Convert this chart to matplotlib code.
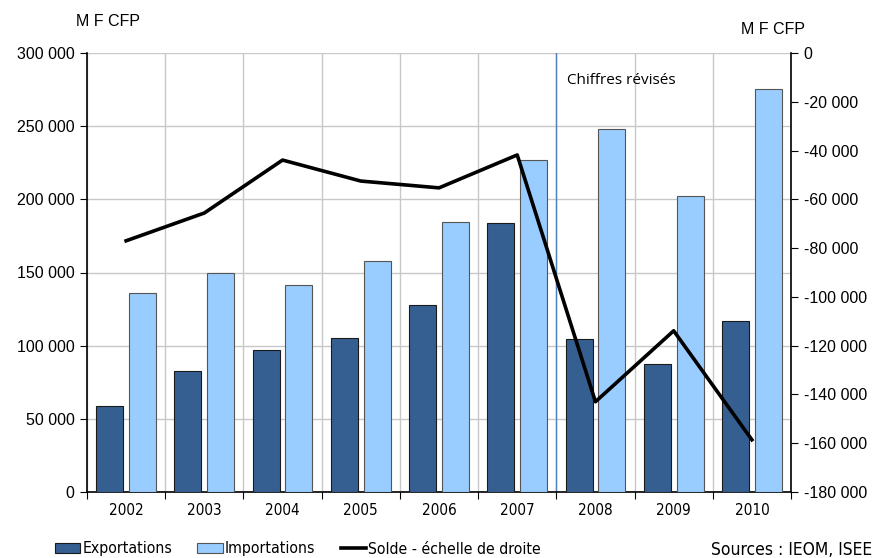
import matplotlib
matplotlib.use('Agg')
import matplotlib.pyplot as plt
from matplotlib.patches import Rectangle
from matplotlib.lines import Line2D
import numpy as np

annees = ['2002', '2003', '2004', '2005', '2006', '2007', '2008', '2009', '2010']
exportations = [58800, 82700, 97000, 105200, 127800, 183800, 104600, 87500, 116900]
importations = [136000, 149700, 141500, 157900, 184500, 226900, 248000, 202300, 275400]
solde = [-77000, -65600, -43900, -52500, -55300, -41800, -143000, -113900, -158600]

plt.rcParams['font.family'] = ['Liberation Sans', 'DejaVu Sans']
fonte_x = 'DejaVu Sans'

def fmt(v, pos=None):
    return '{:,.0f}'.format(v).replace(',', ' ')

fig = plt.figure(figsize=(8.75, 5.58), dpi=100)
ax = fig.add_axes([87/875, 66/558, 704/875, 439/558])
x = np.arange(len(annees))

ax.bar(x - 0.21, exportations, width=0.345, color='#365f91', edgecolor='#1a1a1a', linewidth=0.8, zorder=3)
ax.bar(x + 0.21, importations, width=0.345, color='#99ccff', edgecolor='#555555', linewidth=0.8, zorder=3)

ax.set_xlim(-0.5, len(annees) - 0.5)
ax.set_ylim(0, 300000)
ax.set_yticks(np.arange(0, 300001, 50000))
ax.yaxis.set_major_formatter(plt.FuncFormatter(fmt))
ax.set_xticks(np.arange(-0.5, len(annees), 1))
ax.set_xticklabels([])
ax.set_xticks(x, minor=True)
ax.set_xticklabels(annees, minor=True, fontsize=11, family=fonte_x, fontstretch='condensed')
ax.tick_params(axis='x', which='minor', length=0, pad=8)
ax.tick_params(axis='x', which='major', length=5, direction='out', color='black')
ax.tick_params(axis='y', length=5, direction='out', labelsize=11.5, pad=4)
ax.grid(True, which='major', color='#c8c8c8', linewidth=1, zorder=0)
ax.set_axisbelow(True)
for s in ['top', 'right']:
    ax.spines[s].set_visible(False)
ax.spines['left'].set_linewidth(1.2)
ax.spines['bottom'].set_linewidth(1.2)

# chiffres revises a partir de 2008
ax.axvline(5.5, color='#4f81bd', linewidth=1, zorder=2)
ax.text(5.64, 281000, 'Chiffres révisés', fontsize=11, family='Open Sans', va='center', ha='left')

ax2 = ax.twinx()
ax2.plot(x, solde, color='black', linewidth=2.6, zorder=5)
ax2.set_ylim(-180000, 0)
ax2.set_yticks(np.arange(-180000, 1, 20000))
ax2.yaxis.set_major_formatter(plt.FuncFormatter(fmt))
ax2.tick_params(axis='y', length=5, direction='out', labelsize=11.5, pad=4)
for s in ['top', 'left', 'bottom']:
    ax2.spines[s].set_visible(False)
ax2.spines['right'].set_linewidth(1.2)

fig.text(108/875, 1 - 22/558, 'M F CFP', fontsize=11.5, ha='center', va='center')
fig.text(773/875, 1 - 30/558, 'M F CFP', fontsize=11.5, ha='center', va='center')

handles = [Rectangle((0, 0), 1, 1, facecolor='#365f91', edgecolor='#1a1a1a', linewidth=0.8),
           Rectangle((0, 0), 1, 1, facecolor='#99ccff', edgecolor='#555555', linewidth=0.8),
           Line2D([0], [0], color='black', linewidth=2.6)]
fig.legend(handles, ['Exportations', 'Importations', 'Solde - échelle de droite'],
           loc='center left', bbox_to_anchor=(55/875, 1 - 549/558), ncol=3, frameon=False,
           prop={'family': fonte_x, 'size': 11.3, 'stretch': 'condensed'}, handlelength=1.6, handleheight=0.6,
           handletextpad=0.15, columnspacing=1.6, borderaxespad=0, borderpad=0)
fig.text(872/875, 1 - 550/558, 'Sources : IEOM, ISEE', fontsize=12.5, family=fonte_x,
         fontstretch='condensed', ha='right', va='center')

fig.savefig('out.png', dpi=100)
